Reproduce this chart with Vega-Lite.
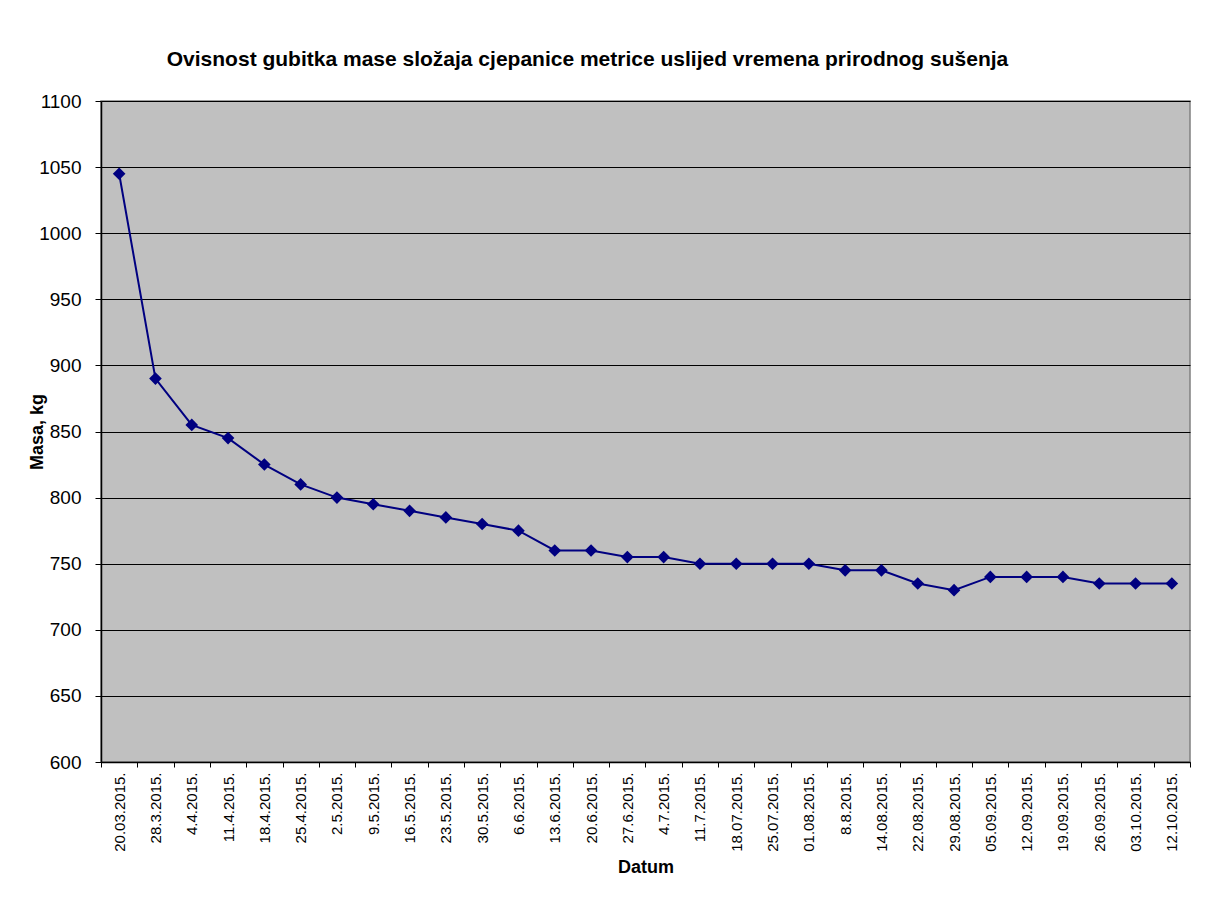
{
  "$schema": "https://vega.github.io/schema/vega-lite/v6.json",
  "width": 1089,
  "height": 661,
  "autosize": {"type": "none"},
  "padding": {"left": 101, "top": 101, "right": 16, "bottom": 151},
  "background": "white",
  "title": {
    "text": "Ovisnost gubitka mase složaja cjepanice metrice uslijed vremena prirodnog sušenja",
    "font": "Liberation Sans",
    "fontSize": 21,
    "fontWeight": "bold",
    "color": "black",
    "anchor": "middle",
    "dx": -58,
    "offset": 22
  },
  "config": {
    "view": {"fill": "#C0C0C0", "stroke": "#808080", "strokeWidth": 1.5},
    "axis": {"labelFont": "Liberation Sans", "titleFont": "Liberation Sans", "labelColor": "black", "titleColor": "black", "domainColor": "black", "tickColor": "black"}
  },
  "data": {
    "values": [
      {"datum": "20.03.2015.", "masa": 1045},
      {"datum": "28.3.2015.", "masa": 890},
      {"datum": "4.4.2015.", "masa": 855},
      {"datum": "11.4.2015.", "masa": 845},
      {"datum": "18.4.2015.", "masa": 825},
      {"datum": "25.4.2015.", "masa": 810},
      {"datum": "2.5.2015.", "masa": 800},
      {"datum": "9.5.2015.", "masa": 795},
      {"datum": "16.5.2015.", "masa": 790},
      {"datum": "23.5.2015.", "masa": 785},
      {"datum": "30.5.2015.", "masa": 780},
      {"datum": "6.6.2015.", "masa": 775},
      {"datum": "13.6.2015.", "masa": 760},
      {"datum": "20.6.2015.", "masa": 760},
      {"datum": "27.6.2015.", "masa": 755},
      {"datum": "4.7.2015.", "masa": 755},
      {"datum": "11.7.2015.", "masa": 750},
      {"datum": "18.07.2015.", "masa": 750},
      {"datum": "25.07.2015.", "masa": 750},
      {"datum": "01.08.2015.", "masa": 750},
      {"datum": "8.8.2015.", "masa": 745},
      {"datum": "14.08.2015.", "masa": 745},
      {"datum": "22.08.2015.", "masa": 735},
      {"datum": "29.08.2015.", "masa": 730},
      {"datum": "05.09.2015.", "masa": 740},
      {"datum": "12.09.2015.", "masa": 740},
      {"datum": "19.09.2015.", "masa": 740},
      {"datum": "26.09.2015.", "masa": 735},
      {"datum": "03.10.2015.", "masa": 735},
      {"datum": "12.10.2015.", "masa": 735}
    ]
  },
  "encoding": {
    "x": {
      "field": "datum",
      "type": "ordinal",
      "sort": null,
      "bandPosition": 0.5,
      "scale": {"type": "band", "paddingInner": 0, "paddingOuter": 0},
      "axis": {
        "title": "Datum",
        "titleFontSize": 18,
        "titleFontWeight": "bold",
        "titlePadding": 7,
        "labelAngle": -90,
        "labelFontSize": 15,
        "labelPadding": 5,
        "tickBand": "extent",
        "tickSize": 5,
        "grid": false,
        "domainWidth": 1.5
      }
    },
    "y": {
      "field": "masa",
      "type": "quantitative",
      "scale": {"domain": [600, 1100], "nice": false, "zero": false},
      "axis": {
        "title": "Masa, kg",
        "titleFontSize": 18,
        "titleFontWeight": "bold",
        "titlePadding": -8,
        "format": "d",
        "values": [600, 650, 700, 750, 800, 850, 900, 950, 1000, 1050, 1100],
        "labelFontSize": 19,
        "labelPadding": 14,
        "tickSize": 6,
        "grid": true,
        "gridColor": "black",
        "gridOpacity": 1,
        "gridWidth": 1,
        "domainWidth": 1.5
      }
    }
  },
  "layer": [
    {"mark": {"type": "line", "color": "#000080", "strokeWidth": 2}},
    {"mark": {"type": "point", "shape": "diamond", "filled": true, "color": "#000080", "opacity": 1, "size": 160}}
  ]
}
